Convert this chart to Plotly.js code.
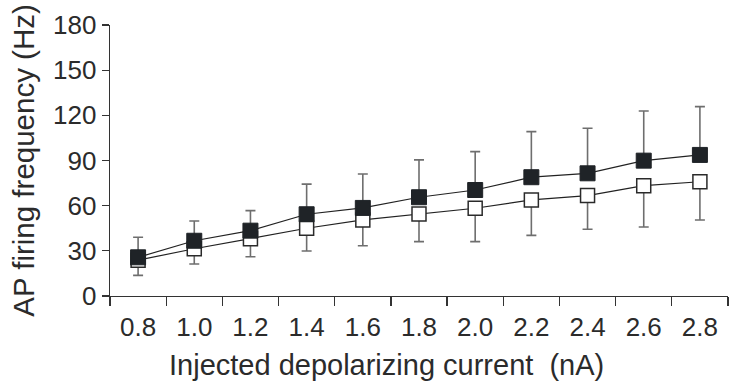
<!DOCTYPE html>
<html>
<head>
<meta charset="utf-8">
<script src="https://cdn.plot.ly/plotly-3.0.1.min.js"></script>
<style>html,body{margin:0;padding:0;background:#fff;}#chart{width:730px;height:387px;}</style>
</head>
<body>
<div id="chart"></div>
<script>
const currents = ['0.8','1.0','1.2','1.4','1.6','1.8','2.0','2.2','2.4','2.6','2.8'];
const filledMean = [25.7, 36.7, 43.4, 54.3, 58.5, 65.6, 70.4, 78.9, 81.5, 89.9, 93.7];
const filledErrUp = [13.3, 13.1, 13.3, 20.0, 22.5, 24.8, 25.5, 30.3, 29.9, 33.0, 32.1];
const openMean = [23.8, 31.4, 38.1, 45.0, 50.5, 54.5, 58.3, 63.8, 66.7, 73.3, 75.9];
const openErrDown = [10.1, 10.1, 12.0, 15.1, 17.1, 18.4, 22.2, 23.5, 22.4, 27.5, 25.4];
const zeros = currents.map(() => 0);
const xTitle = 'Injected depolarizing current  (nA)';
const yTitle = 'AP firing frequency (Hz)';

const fontFam = '"Liberation Sans", Arial, Helvetica, sans-serif';
const txtColor = '#2b2b2b';

const openTrace = {
  x: currents, y: openMean, type: 'scatter', mode: 'lines+markers',
  line: {color: '#222', width: 1.2},
  marker: {symbol: 'square', size: 14, color: '#ffffff', line: {color: '#2a2a2a', width: 1.5}},
  error_y: {type: 'data', symmetric: false, array: zeros, arrayminus: openErrDown,
            color: '#6e6e6e', thickness: 1.6, width: 5},
  hoverinfo: 'skip', showlegend: false
};
const filledTrace = {
  x: currents, y: filledMean, type: 'scatter', mode: 'lines+markers',
  line: {color: '#222', width: 1.2},
  marker: {symbol: 'square', size: 15, color: '#1f2327', line: {color: '#1f2327', width: 1}},
  error_y: {type: 'data', symmetric: false, array: filledErrUp, arrayminus: zeros,
            color: '#6e6e6e', thickness: 1.6, width: 5},
  hoverinfo: 'skip', showlegend: false
};

const layout = {
  width: 730, height: 387,
  margin: {l: 110, r: 2, t: 25, b: 91},
  paper_bgcolor: '#fff', plot_bgcolor: '#fff',
  font: {family: fontFam, color: txtColor},
  xaxis: {
    type: 'category', range: [-0.5, 10.5],
    tickson: 'boundaries', ticks: 'outside', ticklen: 9, tickwidth: 1.3, tickcolor: '#333',
    showline: true, linecolor: '#333', linewidth: 1.3,
    showgrid: false, zeroline: false,
    tickfont: {size: 26, family: fontFam, color: txtColor},
    ticklabelstandoff: 7
  },
  yaxis: {
    range: [0, 180], tickvals: [0, 30, 60, 90, 120, 150, 180],
    ticks: 'outside', ticklen: 7, tickwidth: 1.3, tickcolor: '#333',
    showline: true, linecolor: '#333', linewidth: 1.3,
    showgrid: false, zeroline: false,
    tickfont: {size: 26, family: fontFam, color: txtColor},
    ticklabelstandoff: 0,
    title: {text: yTitle, font: {size: 29.5, family: fontFam, color: txtColor}, standoff: 9}
  },
  annotations: [{
    text: xTitle, xref: 'paper', yref: 'paper', x: 0.448, y: -0.2546,
    xanchor: 'center', yanchor: 'middle', showarrow: false,
    font: {size: 29, family: fontFam, color: txtColor}
  }]
};

Plotly.newPlot('chart', [openTrace, filledTrace], layout, {displayModeBar: false, staticPlot: true});
</script>
</body>
</html>
